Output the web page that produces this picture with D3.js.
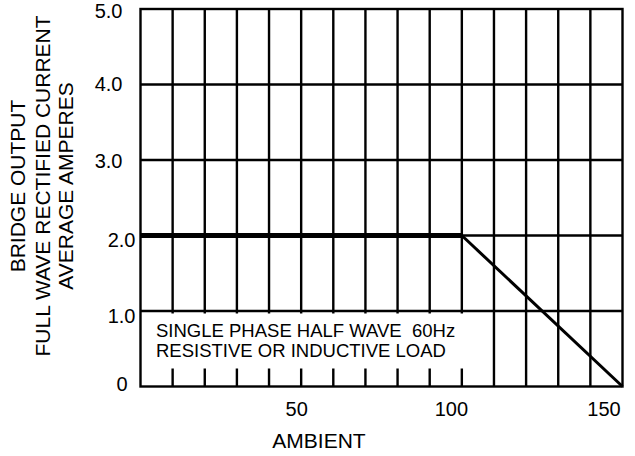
<!DOCTYPE html>
<html>
<head>
<meta charset="utf-8">
<script src="https://cdn.jsdelivr.net/npm/d3@7"></script>
<style>
  html, body { margin: 0; padding: 0; background: #fff; }
  svg { display: block; }
  text { font-family: "Liberation Sans", Arial, Helvetica, sans-serif; fill: #000; }
</style>
</head>
<body>
<svg id="chart" width="635" height="456"></svg>
<script>
// ---- data ----
const temps = [0, 100, 150];          // ambient temperature points of the derating curve
const amps  = [2.0, 2.0, 0];          // average output current (A)
const xTickValues = [50, 100, 150];
const xTickLabels = ["50", "100", "150"];
const yTickValues = [0, 1, 2, 3, 4, 5];
const yTickLabels = ["0", "1.0", "2.0", "3.0", "4.0", "5.0"];
const xGridValues = [10, 20, 30, 40, 50, 60, 70, 80, 90, 100, 110, 120, 130, 140];
const yGridValues = [1, 2, 3, 4];
const yTitleLines = ["BRIDGE OUTPUT", "FULL WAVE RECTIFIED CURRENT", "AVERAGE AMPERES"];
const xTitle = "AMBIENT";
const noteLines = ["SINGLE PHASE HALF WAVE  60Hz", "RESISTIVE OR INDUCTIVE LOAD"];
const noteBoxExtent = { x0: 0, x1: 100, yTop: 1.0 };

(function () {
// ---- layout / style ----
const svg = d3.select("#chart");
const pLeft = 140.5, pRight = 622.5, pTop = 9, pBottom = 386.5;
const x = d3.scaleLinear().domain([0, 150]).range([pLeft, pRight]);
const y = d3.scaleLinear().domain([0, 5]).range([pBottom, pTop]);
const gridW = 2.4;
const segWidths = [5, 3];
const xLabelDx = [-5, -11, -19];
const yLabelDx = [-13, -5, -5, -18, -18, -18];
const yLabelDy = [-3, 4, 4, 0, -1, 1];

// grid
const g = svg.append("g");
g.selectAll("line.vg").data(xGridValues).join("line")
  .attr("x1", d => x(d)).attr("x2", d => x(d))
  .attr("y1", y(0)).attr("y2", y(5))
  .attr("stroke", "#000").attr("stroke-width", gridW);
g.selectAll("line.hg").data(yGridValues).join("line")
  .attr("x1", x(0)).attr("x2", x(150))
  .attr("y1", d => y(d)).attr("y2", d => y(d))
  .attr("stroke", "#000").attr("stroke-width", gridW);

// note box (white, interrupts the grid)
svg.append("rect")
  .attr("x", x(noteBoxExtent.x0) + 1.5)
  .attr("y", y(noteBoxExtent.yTop) + 2.5)
  .attr("width", x(noteBoxExtent.x1) - x(noteBoxExtent.x0) + 1)
  .attr("height", 55)
  .attr("fill", "#fff");

// plot border
svg.append("rect")
  .attr("x", x(0)).attr("y", y(5))
  .attr("width", x(150) - x(0)).attr("height", y(0) - y(5))
  .attr("fill", "none").attr("stroke", "#000").attr("stroke-width", gridW);

// derating curve segments
const pts = temps.map((t, i) => [t, amps[i]]);
const segs = d3.pairs(pts);
svg.selectAll("line.curve").data(segs).join("line")
  .attr("x1", d => x(d[0][0])).attr("y1", d => y(d[0][1]))
  .attr("x2", d => x(d[1][0])).attr("y2", d => y(d[1][1]))
  .attr("stroke", "#000")
  .attr("stroke-width", (d, i) => segWidths[i])
  .attr("stroke-linecap", "butt");

// x axis labels
const xAxis = d3.axisBottom(x).tickValues(xTickValues)
  .tickFormat((d, i) => xTickLabels[i]).tickSize(0).tickPadding(0);
const xa = svg.append("g").attr("transform", `translate(0,${pBottom})`).call(xAxis);
xa.select(".domain").remove();
xa.selectAll("text")
  .attr("font-size", 20).attr("font-family", null)
  .attr("y", 0).attr("dy", null)
  .attr("transform", (d, i) => `translate(${xLabelDx[i]},29.5)`);

// y axis labels
const yAxis = d3.axisLeft(y).tickValues(yTickValues)
  .tickFormat((d, i) => yTickLabels[i]).tickSize(0).tickPadding(0);
const ya = svg.append("g").attr("transform", `translate(${pLeft},0)`).call(yAxis);
ya.select(".domain").remove();
ya.selectAll("text")
  .attr("font-size", 20).attr("font-family", null)
  .attr("x", (d, i) => yLabelDx[i])
  .attr("dy", (d, i) => `${0.35 + yLabelDy[i] / 20}em`);

// titles
svg.append("text")
  .attr("x", 319).attr("y", 448)
  .attr("text-anchor", "middle").attr("font-size", 21)
  .text(xTitle);
const yt = svg.append("g").attr("transform", "translate(0,186) rotate(-90)");
const baselines = [25, 50, 73];
yt.selectAll("text").data(yTitleLines).join("text")
  .attr("x", 0).attr("y", (d, i) => baselines[i])
  .attr("text-anchor", "middle").attr("font-size", 21)
  .text(d => d);

// note text
svg.selectAll("text.note").data(noteLines).join("text")
  .attr("class", "note")
  .attr("x", 156).attr("y", (d, i) => 336.5 + i * 20.5)
  .attr("font-size", 18.5)
  .style("white-space", "pre")
  .text(d => d);
})();
</script>
</body>
</html>
